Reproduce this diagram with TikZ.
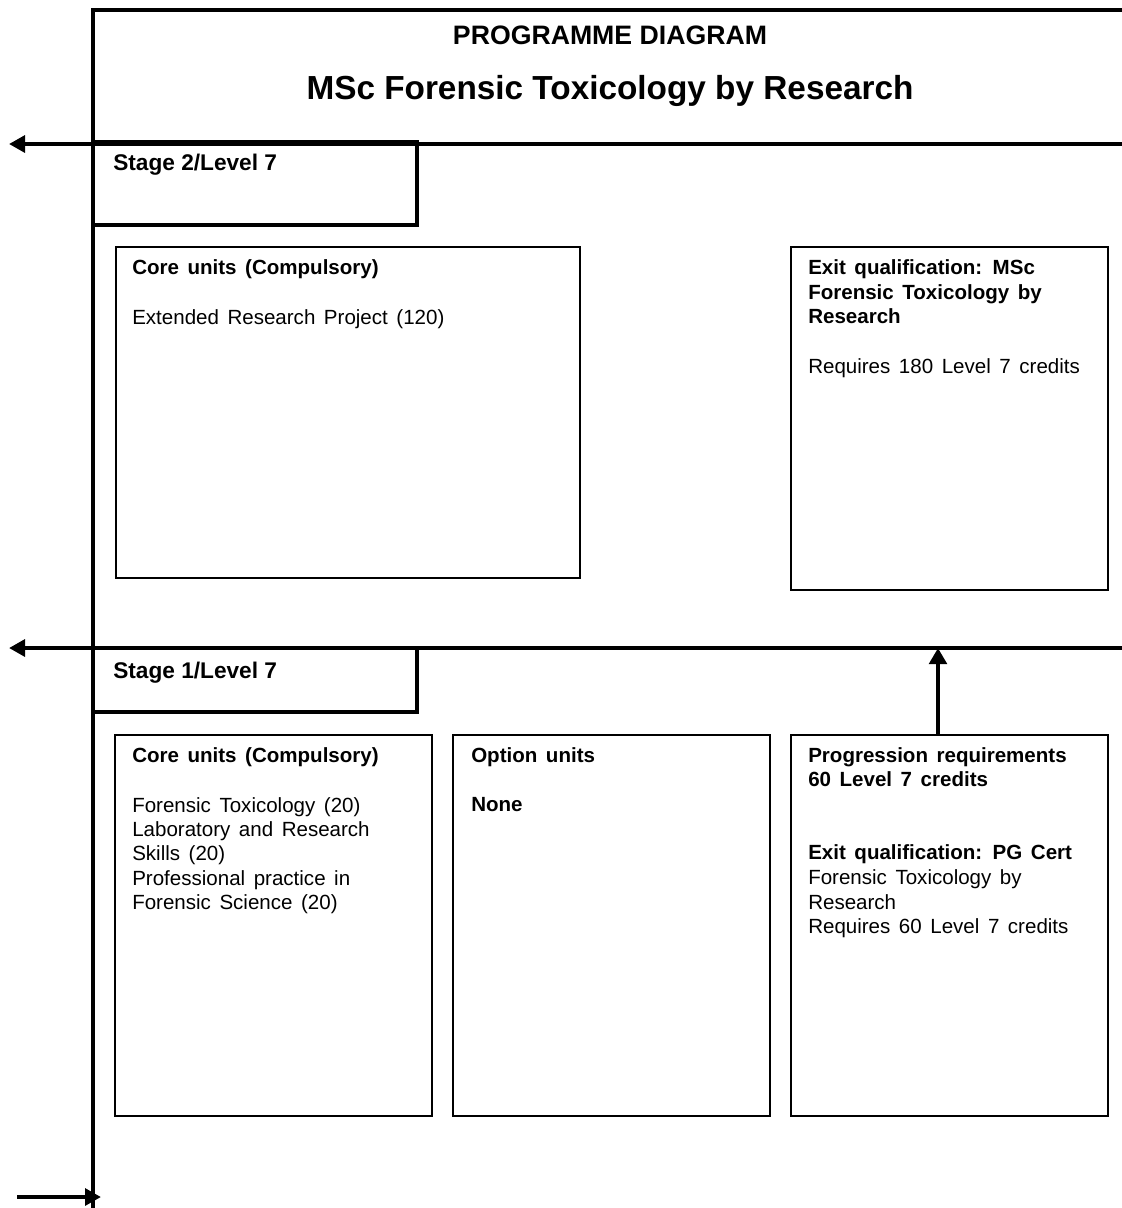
\documentclass[tikz,border=0pt]{standalone}
\usepackage{fontspec}
\setmainfont[WordSpace=1.5]{Liberation Sans}
\newfontfamily\headsans{Liberation Sans}
\usetikzlibrary{arrows.meta,fit}
\begin{document}
\begin{tikzpicture}[x=0.75pt,y=-0.75pt,
  frameline/.style={line width=2.6pt},
  thinbox/.style={draw, line width=0.9pt, inner sep=0pt},
  stagebox/.style={draw, line width=2.4pt, inner sep=0pt},
  body/.style={anchor=base west, inner sep=0pt, font=\fontsize{15.4}{18}\selectfont},
  bodyb/.style={body, font=\fontsize{15.4}{18}\selectfont\bfseries},
  stagelabel/.style={body, font=\headsans\fontsize{17}{20}\selectfont\bfseries},
  leftarrow/.style={line width=3pt, -{Triangle[length=12pt,width=12.5pt]}},
  uparrow/.style={line width=3.6pt, -{Triangle[length=12pt,width=13pt]}},
]
\useasboundingbox (0,0) rectangle (1122,1208);

% outer frame (open on the right)
\coordinate (ftl) at (93,10);
\coordinate (ftr) at (1122,10);
\coordinate (fbl) at (93,1208);
\draw[frameline] (ftr) -- (ftl) -- (fbl);

% header
\node[anchor=base, inner sep=0pt, font=\headsans\fontsize{20}{22}\selectfont\bfseries] (hd) at (610,44) {PROGRAMME DIAGRAM};
\node[anchor=base, inner sep=0pt, font=\headsans\fontsize{25}{28}\selectfont\bfseries] (title) at (610,99) {MSc Forensic Toxicology by Research};

% stage dividers
\coordinate (s2l) at (93,144);
\coordinate (s2r) at (1122,144);
\coordinate (s1l) at (93,648);
\coordinate (s1r) at (1122,648);
\draw[frameline] (s2l) -- (s2r);
\draw[frameline] (s1l) -- (s1r);

% stage label boxes
\node[stagebox, fit={(93,142) (417,225)}] (stage2) {};
\node[stagebox, fit={(93,648) (417,712)}] (stage1) {};
\node[stagelabel] (stage2t) at (113,170) {Stage 2/Level 7};
\node[stagelabel] (stage1t) at (113,678) {Stage 1/Level 7};

% stage 2 boxes
\node[thinbox, fit={(116,247) (580,578)}] (core2) {};
\node[thinbox, fit={(791,247) (1108,590)}] (exit2) {};
\node[bodyb] (core2h) at (132,274) {Core units (Compulsory)};
\node[body] (core2a) at (132,324) {Extended Research Project (120)};
\node[bodyb] (exit2a) at (808,274) {Exit qualification:  MSc};
\node[bodyb] (exit2b) at (808,299) {Forensic Toxicology by};
\node[bodyb] (exit2c) at (808,323) {Research};
\node[body] (exit2d) at (808,373) {Requires 180 Level 7 credits};

% stage 1 boxes
\node[thinbox, fit={(115,735) (432,1116)}] (core1) {};
\node[thinbox, fit={(453,735) (770,1116)}] (opt1) {};
\node[thinbox, fit={(791,735) (1108,1116)}] (prog1) {};
\node[bodyb] (core1h) at (132,762) {Core units (Compulsory)};
\node[body] (core1a) at (132,812) {Forensic Toxicology (20)};
\node[body] (core1b) at (132,836) {Laboratory and Research};
\node[body] (core1c) at (132,860) {Skills (20)};
\node[body] (core1d) at (132,885) {Professional practice in};
\node[body] (core1e) at (132,909) {Forensic Science (20)};
\node[bodyb] (opt1h) at (471,762) {Option units};
\node[bodyb] (opt1a) at (471,811) {None};
\node[bodyb] (prog1h) at (808,762) {Progression requirements};
\node[bodyb] (prog1a) at (808,786) {60 Level 7 credits};
\node[bodyb] (prog1b) at (808,859) {Exit qualification:  PG Cert};
\node[body] (prog1c) at (808,884) {Forensic Toxicology by};
\node[body] (prog1d) at (808,909) {Research};
\node[body] (prog1e) at (808,933) {Requires 60 Level 7 credits};

% progression arrow up to stage 2
\coordinate (upx) at (938,648);
\draw[uparrow] (prog1.north -| upx) -- (upx);

% exit arrows on the left
\coordinate (out2) at (9,144);
\coordinate (out1) at (9,648);
\draw[leftarrow] (s2l) -- (out2);
\draw[leftarrow] (s1l) -- (out1);

% entry arrow at the bottom
\coordinate (in0) at (17,1197);
\coordinate (in1) at (101,1197);
\draw[leftarrow] (in0) -- (in1);
\end{tikzpicture}
\end{document}
